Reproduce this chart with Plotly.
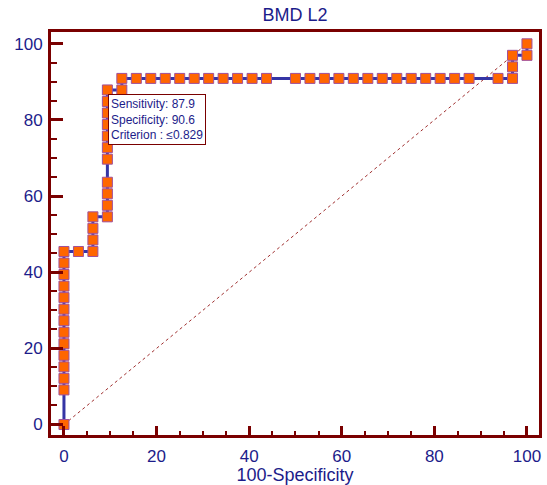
import plotly.graph_objects as go

# ROC curve points (100-Specificity, Sensitivity)
fpr = [0, 0, 0, 0, 0, 0, 0, 0, 0, 0, 0, 0, 0, 0,
       3.13, 6.25, 6.25, 6.25, 6.25,
       9.38, 9.38, 9.38, 9.38, 9.38, 9.38, 9.38, 9.38, 9.38, 9.38, 9.38,
       12.5, 12.5,
       15.63, 18.75, 21.88, 25.0, 28.13, 31.25, 34.38, 37.5, 40.63, 43.75,
       50.0, 53.13, 56.25, 59.38, 62.5, 65.63, 68.75, 71.88, 75.0, 78.13,
       81.25, 84.38, 87.5, 93.75, 96.88,
       96.88, 96.88, 100, 100]
tpr = [0, 9.09, 12.12, 15.15, 18.18, 21.21, 24.24, 27.27, 30.3, 33.33, 36.36, 39.39, 42.42, 45.45,
       45.45, 45.45, 48.48, 51.52, 54.55,
       54.55, 57.58, 60.61, 63.64, 69.7, 72.73, 75.76, 78.79, 81.82, 84.85, 87.88,
       87.88, 90.91,
       90.91, 90.91, 90.91, 90.91, 90.91, 90.91, 90.91, 90.91, 90.91, 90.91,
       90.91, 90.91, 90.91, 90.91, 90.91, 90.91, 90.91, 90.91, 90.91, 90.91,
       90.91, 90.91, 90.91, 90.91, 90.91,
       93.94, 96.97, 96.97, 100]

diag_x = [0, 100]
diag_y = [0, 100]

title_text = "BMD L2"
x_title = "100-Specificity"
box_lines = ["Sensitivity: 87.9", "Specificity: 90.6", "Criterion : \u22640.829"]
tick_vals = [0, 20, 40, 60, 80, 100]

NAVY = "#1c1c8a"
DARKRED = "#7a0000"
FONT = "Liberation Sans, Arial, sans-serif"

fig = go.Figure()
fig.add_trace(go.Scatter(x=diag_x, y=diag_y, mode="lines",
                         line=dict(color="#a03030", width=1, dash="dot"),
                         hoverinfo="skip", showlegend=False))
fig.add_trace(go.Scatter(x=fpr, y=tpr, mode="lines+markers",
                         line=dict(color="#3535a5", width=3),
                         marker=dict(symbol="square", size=10, color="#ff6600",
                                     line=dict(color="#a0509a", width=1)),
                         showlegend=False))

fig.add_annotation(x=9.5, y=86.7, xref="x", yref="y", xanchor="left", yanchor="top",
                   text="<br>".join(box_lines), showarrow=False, align="left",
                   font=dict(family=FONT, size=12, color=NAVY),
                   bgcolor="white", bordercolor=DARKRED, borderwidth=1, borderpad=2)

axis_common = dict(showgrid=False, zeroline=False, showline=True, linecolor=DARKRED,
                   linewidth=3, mirror=True, ticks="inside", tickcolor=DARKRED,
                   tickwidth=3, tickvals=tick_vals,
                   tickfont=dict(family=FONT, size=17, color=NAVY))

fig.update_xaxes(range=[-2.8, 102.6], ticklen=9, ticklabelstandoff=4,
                 minor=dict(dtick=5, tick0=0, ticks="inside", ticklen=4, tickcolor=DARKRED, tickwidth=2),
                 title=dict(text=x_title, font=dict(family=FONT, size=18, color=NAVY), standoff=11),
                 **axis_common)
fig.update_yaxes(range=[-2.75, 103.1], ticklen=12, ticklabelstandoff=2,
                 minor=dict(dtick=5, tick0=0, ticks="inside", ticklen=6, tickcolor=DARKRED, tickwidth=2),
                 **axis_common)

fig.update_layout(
    width=547, height=485,
    margin=dict(l=51, r=8, t=32, b=50, autoexpand=False),
    plot_bgcolor="white", paper_bgcolor="white",
    title=dict(text=title_text, x=0.5, xref="paper", y=0.969, yref="container",
               xanchor="center", yanchor="middle",
               font=dict(family=FONT, size=18, color=NAVY)),
)

fig.write_html("out.html")
